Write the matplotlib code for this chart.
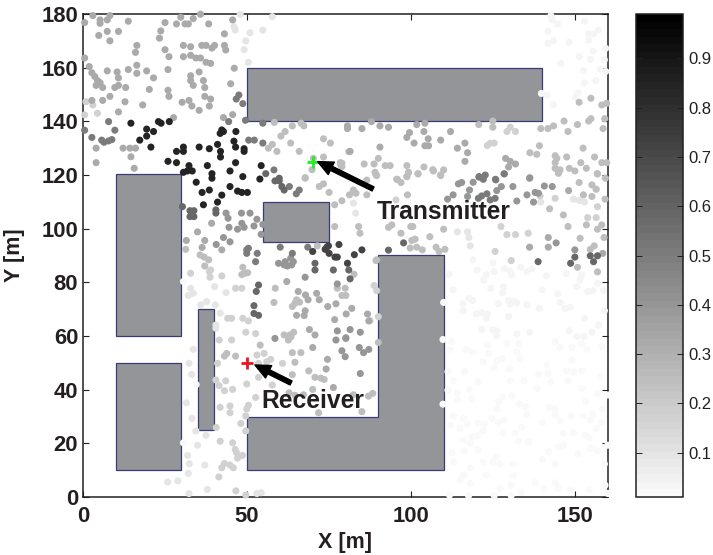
import matplotlib
matplotlib.use('Agg')
import matplotlib.pyplot as plt
from matplotlib.patches import Polygon
from matplotlib.cm import ScalarMappable
from matplotlib.colors import Normalize, LinearSegmentedColormap

plt.rcParams['font.family'] = ['Liberation Sans', 'DejaVu Sans']

# buildings, corner points in metres
buildings = [
    [(10, 60), (30, 60), (30, 120.5), (10, 120.5)],
    [(10, 10), (30, 10), (30, 50), (10, 50)],
    [(35, 25), (40, 25), (40, 70), (35, 70)],
    [(50, 140), (140, 140), (140, 160), (50, 160)],
    [(55, 95), (75, 95), (75, 110), (55, 110)],
    [(50, 10), (110, 10), (110, 90), (90, 90), (90, 30), (50, 30)],
]

transmitter = (70, 125)
receiver = (50, 50)

x_ticks = [0, 50, 100, 150]
y_ticks = [0, 20, 40, 60, 80, 100, 120, 140, 160, 180]
cbar_ticks = [0.1, 0.2, 0.3, 0.4, 0.5, 0.6, 0.7, 0.8, 0.9]

# measured points grouped by the value read from the grey level
pts_85 = [(14.6,139.3),(23,139.9),(23.8,139.3),(26.3,139.9),(19.4,137.1),(21.5,136.2),(19.4,134.5),(17.3,133),(20.7,130.4),
    (42.3,136.8),(42.8,136.2),(41.8,135.5),(46.6,136.2),(46,132.6),(41,131.4),(46.5,130.4),(49.1,129.8),(49.1,128.8),
    (30.6,130.4),(30.6,128.8),(28.5,128.8),(35.4,130.4),(38.5,129.8),(41.9,128.8),(41.9,126.7),(25.9,125.1),(28.5,124.6),
    (32.3,123.5),(37.9,123.5),(46.5,124.6),(54.3,123.5),(30.6,121),(31.8,121.5),(33.3,121.5),(39.3,120.5),(39.3,118.8),
    (44.8,121.5),(48.7,119.4),(53.9,118.5),(34.5,117.3),(38.5,114.4),(36.3,113.5),(42.3,112.5),(44.8,115.7),(47.1,114),
    (48.4,113.5),(50.1,113.5),(41,109.9),(36.7,108.9)]
pts_72 = [(74.3,93.1),(73.8,92.3),(74.8,93.6),(70,91.5),(75,90.8),(78,94.1),(76.8,89.4),(77.5,89.4),(82.7,90.3),(85,92.1),(80.6,87.1)]
pts_58 = [(55.7,120.5),(59.8,118.8),(58.5,117.8),(59.8,117.8),(60.6,115.7),(61.3,114.4),(40.5,107),(40.5,105.8),(30.3,108.2),
    (32.6,106.7),(33.8,106.7),(32.6,104.5),(33.8,104.5),(53.5,79),(52.8,76.6),(52.1,68.4),(53.5,67.7),(52.1,71.3),(138.7,87.7),
    (148.6,87.1),(149.9,89.4),(154.6,89.9),(156.8,89.9),(155.6,87.7),(97.7,94.7),(93.1,92),(70.7,87.1),(70.7,84.6),(76.3,84.6),(81,84.6),(81.4,81.3)]
pts_50 = [(46.7,148.3),(47.5,149.8),(48.7,146.6),(49.5,140.4),(44.4,139.9),(7.8,139.9),(9.7,136.7),(2.7,134),(0.5,136.7),
    (5.7,133),(6.4,132.2),(7.8,132.7),(8.8,133.2),(54.8,139.3),(54.8,131.9),(50.5,133),(52.2,133),(58.2,121.9),(62.9,115.7),(65.9,114.4),
    (65,113),(49.9,92.1),(50.4,92.7),(49.9,90.8),(53.1,90.8),(52.6,87.7),(60.1,93.1),(63.8,90.8),(68.5,93.1),(120.7,119.4),(125.7,118.4),
    (120.7,119.2),(122.6,120),(122,118.4),(128.4,120.4),(125.8,118.2),(120.5,111.3),(123.1,113),(124.1,110.7),(125.6,111.3),(121.5,112.2)]
pts_40 = [(59.6,87.1),(61.6,87.7),(63.3,89),(64.1,87.7),(61.3,86.5),(62.3,86.1),(63.6,86.5),(43.6,105.8),(44.2,103.9),(48.3,105.8),(50.9,105.8),
    (53,103.5),(44.5,100.5),(47.1,99.8),(48.4,102),(49.1,100.5),(52.1,101),(54.8,101.6),(54.3,97.9),(42.8,96.7),(44.8,95.1),(40.6,94.1),
    (114.4,116.7),(115.4,117.2),(118.9,117.3),(127.5,115.7),(126.1,114.2),(131,115.7),(132.2,110.3),(136.1,118.8),(135.3,112.6),(137.8,113.5),
    (138.8,113.2),(137.3,109.9),(140.6,115.9),(143,115.7),(112.8,112.6),(111.1,111),(117.8,114.4),(117.2,112),(144.2,94.7),(149.9,92.1),(67.7,81.9),(77.5,79.4),
    (58.5,59.1),(77.1,58.5),(80.1,59.1),(78.9,54.5),(79.9,52.3),(84.2,55.7),(85.5,53.8),(87.1,55),(84.5,46),(81.4,62.4),(84.5,61.4),(77.5,61.9)]
pts_33 = [(3,179.4),(0.5,176.8),(5.2,177.8),(5.2,176.5),(7.4,177.8),(8.2,179.4),(13.8,177.3),(4.8,172),(7.4,173.5),(10.8,173.5),(8.2,170),
    (25,176.8),(23.7,173.7),(23.3,171),(28.5,176.3),(31.1,176.3),(32.1,176.3),(29.8,178.8),(33.6,178.3),(35.8,179.9),(38.3,176.3),(43.1,172.6),(45.6,177.8),
    (16.4,168.3),(16,165.7),(25,166.7),(26.2,164.1),(30.6,168.3),(32.8,167.8),(30.6,164.1),(32.8,164.6),(34.4,163.6),(35.8,163.6),(36.2,168.3),(37.5,168.3),
    (39.3,167.3),(40.1,168.3),(43.1,168.3),(43.5,166.6),(37.5,162),(38.9,161.6),(0.5,163.6),(1.9,160.4),(2.7,158.1),(3.6,156.7),(4.4,155.2),(5.2,154.4),(4,153.4),(6,152.6),
    (7.4,158.8),(10.4,158.4),(10.8,156.2),(13.8,159.3),(16.4,160.9),(16.4,157.9),(19.4,158.8),(21.5,156.2),(25.9,159.3),(10.8,153.4),(9.7,152.6),(13,152.6),(20.2,151.9),
    (25.9,151.6),(26.2,149.3),(32.8,157),(32.8,155.2),(33.6,153.4),(35.4,158.4),(36.7,155.2),(37.1,152.6),(37.1,149.3),(38.9,148.3),(46.1,159.8),(45,154),(8.2,149.3),(6,147.8),
    (2.7,147.8),(12.8,147.3),(18.2,146.1),(30.2,147.1),(32.3,147.8),(33.2,145.7),(35.4,144.1),(38.5,145.7),(10.8,143.5),(27.6,141.4),(42.8,141.4),(45.6,142.5),(4,130),(4,124.6),
    (12.2,130),(14.3,130),(16,130),(14.6,126.8),(15.6,122.5),(39.2,102),(34.9,98.8),(37.1,95.6),(31.5,95.6),(42.3,92.1),(36.3,93),(62.1,80.3),(65.6,76.6),(67.8,75.3),(68.6,73.5),
    (71.2,75.9),(72,73.5),(74.6,71),(77.1,72),(81.9,70.3),(67.7,69.4),(67.4,67.6),(65.1,67.7),(80.2,68.2),(76.7,66.1),(86.7,68.2),(87.1,65.6),(80.6,138.3),(80.6,137.3),
    (85,137.3),(87.9,139.9),(90.5,138.3),(93.1,137.8),(101.7,138.8),(104.2,139.3),(103.9,136.2),(99.5,135.8),(98.7,134),(100.9,131.9),(105.2,133.5),(104.2,130.9),(105.3,130.9),
    (109,133),(112,136.2),(114.1,130),(116.4,131.9),(117.2,128.3),(116.4,125.1),(90.5,130.4),(81.4,128.8),(128.3,120.5),(128.8,126.2),(130.2,125.1),(131.8,124.1),(129.7,123),
    (136.2,119),(148,114.2),(69,62.4),(70.7,60.4),(70,55.7),(74.5,51.3),(74.1,47.7),(76.3,40.8),(80.1,59.4),(141.8,96.7),(141.8,93.1),(136.1,93.1),(158.4,90.8)]
pts_24 = [(58.3,139.6),(63.8,138.3),(66.5,139.3),(67.3,138.3),(61.6,136.2),(60.3,134.5),(73.3,133.5),(75.4,131.9),(63.3,131.9),(57.7,131.4),(56.5,130),(59.1,128.8),(65.9,128.8),
    (70.2,126.2),(73.3,126.7),(78.4,124.6),(78.6,123.7),(69.8,122),(67.7,119),(81,128.7),(67.7,118.8),(72,115.7),(73.3,116.7),(75,113.5),(78.9,110.4),(76.7,108.9),(81.2,112.6),
    (82.4,114.4),(83.2,113.2),(86.5,112.6),(76.7,100.8),(84,100.8),(84.4,98.3),(71.4,93.6),(31.3,92.3),(35.7,90.2),(36.9,89.4),(38.3,88.4),(37.1,86.1),(48.7,85.6),(48.4,82.9),
    (49.4,83.4),(50.2,83.6),(58.6,77.8),(77.5,77.8),(79.9,77.8),(78.9,75.1),(80.1,75.1),(65.1,73.5),(64.6,72.2),(63.8,71),(66,72.6),(58.2,72.5),(82.6,83),
    (85.7,124.1),(88.7,124.1),(92.1,123.5),(93.6,123.5),(98.7,123.5),(103.9,123),(106.6,122),(109.9,121.9),(109,119.8),(102.1,120.5),(99.2,121),(98.7,119.4),(89,121),(89.5,119.8),
    (78.9,124.4),(78.9,123.1),(95.8,118.4),(86.5,118.1),(90,126.2),(136.2,128.3),(138.3,127.7),(139.1,130.9),(143.9,127.2),(144.4,126.2),(143.9,124.6),(143.9,122.5),(145.4,121.9),
    (144.9,120.6),(147.4,126.7),(152.4,130),(155.9,126.7),(151.7,124.6),(153.4,122.5),(148.2,122.5),(149.9,121.5),(156.7,120.5),(158.1,124.6),(159.6,124.6),(154.8,148.6),(151.2,147.1),
    (158.1,146.1),(159.6,146.7),(146.6,140.1),(154.1,140.1),(154.8,141),(159,141),(158.5,137.3),(150.7,138.8),(147.8,136.2),(143.4,138.3),(141.7,137.3),(139.5,137.3),(124.9,140.1),
    (124.9,137.8),(120.6,138.8),(89.3,120),(95.6,118.4),(96.9,117.2),(98.7,119.4),(99.2,120.9),(102.1,120.4),(106.8,121.5),(109,120),(98.9,112.6),(144.9,121.3),(151.2,117.2),(156.8,120.4),
    (159.2,118.8),(155.1,116.3),(156.4,114.7),(152.5,112.6),(155.1,112),(159.1,111),(142.2,107.4),(146.4,105.1),(153.4,101.4),(158.1,101.4),(156.8,99.8),(147.8,100.8),(151.5,96.4),(158.8,96.7),
    (154.6,92.3),(155.8,93.6),(150.7,85.6),(156.8,83.9),(99.9,100.8),(100.5,100.8),(94.1,101.4),(93.1,100.5),(96.9,98.3),(105.7,97),(109.9,99.8),(101.2,96.1),(100.2,95.6),(99.7,92.8),(101.7,93.1),
    (103.4,92.1),(89.3,88.1),(89.5,88.4),(107.6,93.1),(108.5,91.5),(110.3,92.3),(61.3,60.4),(63.1,60.4),(64.2,61.4),(63.4,59.7),(62.6,58.5),(54,56.6),(90,57.6),(63.8,53.8),(66.4,53.8),(64.6,50.2),(68.8,47),
    (63.8,45.6),(70.7,44.6),(72.5,44.3),(73.5,43.8),(70,40.1),(62.8,38.8),(64.6,37.9),(67.2,38.1),(82.4,38.1),(87,37.6),(88.3,38.6),(85,31.8),(71.8,31.4),(43.8,53.5),(43.1,52.5),(46.5,52.5)]
pts_17 = [(53,52.9),(55.2,53.5),(57.2,51.3),(56,50.4),(53.5,49.8),(60.8,49.8),(53.5,44.6),(49.9,42.1),(57.7,41.7),(41,49.8),(43.5,43.3),(40.5,43.6),(41.5,41.5),(43.1,39.6),(45.6,40.1),
    (52.6,37.1),(50.4,34.2),(49.9,32.8),(41.8,33.4),(44.8,33.9),(44.8,31.4),(49.6,30.2),(48.1,27.4),(40.6,25.9),(49.6,24.6),(41.8,20.8),(45.6,20.2),(46.4,17.7),(46.8,16.5),(48.6,15.5),(47.1,14.5),
    (43.1,12.5),(42.3,10.9),(44.8,11.9),(45.8,10.9),(41.4,7.5),(46.6,2.3),(49.6,0.7),(41.5,58.5),(45.3,58.5),(52.6,60.9),(49.6,61.4),(50.4,65.6),(48.7,66.6),(88.7,78.8),(89.5,76.9),(90,67.2),(87.5,65.7),
    (38.9,84.6),(38.5,84),(38.7,81.9),(42.3,82.4),(32.8,83.4),(46.5,77.8),(48.4,77.8),(45.3,66.6),(44.1,66.6),(130.5,88.1),(129.2,97.8),(131.8,97.8),(127.4,100.8),(135.7,98.3),(125.6,91.5),
    (143.9,111.3),(153.8,104.1),(156.4,104.1),(156.8,108.2),(130.2,137.8),(129.2,136.2),(131.8,136.2),(123.2,131),(124.1,131.8),(125.3,131.9),(0.9,147.3),(3,146.1),(0.5,142.4),(4.4,143),(95.4,110.7),(139.3,112.2)]
pts_09 = [(47.9,179.9),(57.7,179),(46,175.3),(46.4,174),(50.9,173),(54.8,174),(49.6,170),(49.1,166.7),(50.4,162),(82.4,109.5),(83.1,105.8),(32.8,77.8),(33.6,75.9),(32.1,75.1),(40.1,78.4),(43.6,76.2),
    (37.7,72.8),(35.9,71.6),(40.3,71.6),(41.8,68.5),(40.5,64.1),(40.5,62.9),(118,93.6),(114.1,98.8),(117.2,98.8),(117.6,96.7),(149.5,111),(151.3,110.5),(152.8,109.9),(139.5,109.9),(156.4,114.7),
    (33.6,55),(32.3,49.8),(33.1,45.7),(31.5,35.1),(33.2,29.3),(34.4,24.6),(37.5,23),(34.9,19.3),(31.9,15.5),(32.4,12.4),(37.1,11.9),(32.1,8.8),(28.9,6),(25.8,5.6),(37.9,2.8),(32.3,1.3),(53,1.3),(54.3,1.6)]
pts_04 = [(142.6,179.4),(143,177.8),(144.6,176.3),(152.8,177.3),(141.7,173.5),(141.7,169.1),(143.4,170),(148.1,169.5),(154.1,172.6),(154.1,170.3),(155.6,172.6),(157.1,174),(159.3,167.2),(155.4,166.2),
    (151.2,164.1),(154.6,163.1),(158.9,162.9),(145.6,161.6),(157.6,159.4),(159.3,158.6),(152.5,158.9),(156.3,155.2),(152.8,154.3),(150.9,150.7),(150,148.9),(141.4,149.8),(143.4,146.2),
    (118.8,88.4),(124.9,87.2),(120.1,84.6),(125.3,84),(128.4,85.1),(130.2,84),(130.6,82.8),(133.4,85.6),(135.3,84),(136.9,85.1),(122.9,82.8),(122.1,80.9),(141.2,82.4),(147.3,83.2),(152,82.8),(151.5,80.9),
    (150.5,78.4),(156.8,79.7),(111.5,83),(112.8,77.2),(124.3,77.8),(128.2,78.4),(127.9,76.2),(139.9,77.2),(144.7,75.7),(153.8,76.6),(155.4,76.9),(158.6,76.9),(117.6,74.1),(118.8,73.2),(115.8,72),(126.6,72),
    (129.7,73.2),(131.4,72.8),(132.2,72.2),(130.2,71.9),(135.3,71.6),(139.1,70.3),(145.4,72.5),(146.9,70.3),(148.5,70.7),(152.9,66.6),(158.9,69.4),(115.8,69.4),(119.8,68.2),(121.5,68.7),(123.3,68.2),(122.9,66.6),
    (129.7,67.2),(121.5,62.5),(124.9,62.3),(126.1,61.9),(126.1,60),(132.2,60.8),(136.1,61.4),(148.2,61.9),(150.5,59.8),(152.7,59.8),(155.1,61.4),(157.1,64.1)]
pts_01 = [(139.7,150.4),(30.6,80.3),(34.5,41.9),(30.6,20.2),(109.9,72.5),(109.7,58.7),(109.7,34.6),(111.7,0.7),(117.5,0.5),(125.3,0.5),(130.5,0.5),(160,38),(159.9,19.3),(160,1.3),
    (112.4,57.9),(111.9,55),(116.8,55),(118.8,54),(123.6,53.5),(123.3,56.6),(129.2,57.2),(132.7,57),(132.2,54.1),(133.2,51.6),(127.9,51.6),(126.1,50.8),(121.9,50.2),(125.3,48.2),(130,47.7),(141.4,49.2),
    (138.8,45.7),(141.7,46),(134.5,43.3),(130.2,43.3),(142.6,43),(147.3,47),(149.5,46.7),(152,47),(147.8,43.3),(157.6,45),(149,51),(143.9,57.9),(145.4,55.7),(149,55.7),(152,57.2),(153.6,55),(158.1,56),
    (111.2,46.7),(116.3,46.7),(112.9,43.3),(120.5,43),(111.2,39.8),(114.1,38.8),(117.7,40.2),(118.5,36.7),(114.1,36.1),(126.6,35.5),(127.9,37.4),(130.7,37.7),(133,34.6),(134.8,33.6),(135.3,30.9),(138.5,40.5),
    (152,40.5),(156.8,38.6),(153.1,35.7),(142.2,33.4),(143.9,32.8),(143.9,30.5),(148.7,30.2),(152.5,30.2),(154.6,28.7),(155.4,30.9),(158.4,32.8),(158.1,27.7),(156.4,25.6),(140,27.7),(145.4,28.4),
    (126.1,32.8),(124.6,29.3),(112.9,30.2),(116,29.3),(120.5,27.4),(122.3,27.2),(117.2,27.2),(111.9,26.8),(114.9,25.6),(126.6,27.7),(128.4,28.7),(128,23.9),(121.9,24.6),(133.7,25.9),(131.8,23.9),(115.9,21.2),
    (118.5,22.4),(120.2,22.8),(118,20),(132.7,20.8),(135.8,20.6),(146.4,23.7),(149.5,23.9),(153,23.1),(154.3,21.8),(144.9,18.7),(146.4,19.3),(141.9,16.9),(150.7,16),(154.6,18.1),(156.8,17.1),
    (112.4,16.5),(116.3,17.1),(120.5,17.7),(112.9,13.1),(118,10.9),(121.9,12.9),(124.9,12.9),(126.1,15),(127.1,12.3),(131,12.3),(140,14),(143.9,12.3),(158.9,12.3),(114.9,6.5),(116,8.2),(122.8,8.2),(118,5.1),
    (131.2,7.9),(130.5,4.4),(127.1,3.2),(133.5,1.7),(137.8,5.4),(140.4,3.2),(143.9,5.3),(144.9,3.2),(148.5,2.6),(154.3,2.8),(159.1,4.4)]

point_groups = [pts_01, pts_04, pts_09, pts_17, pts_24, pts_33, pts_40, pts_50, pts_58, pts_72, pts_85]
group_values = [0.01, 0.04, 0.09, 0.17, 0.24, 0.33, 0.40, 0.50, 0.58, 0.72, 0.85]

cmap = LinearSegmentedColormap.from_list('grey_band', ['#f9f9f9', '#000000'], 64)
norm = Normalize(0.01, 0.99)

fig = plt.figure(figsize=(7.13, 5.55), dpi=100)
ax = fig.add_axes([83 / 713, 58 / 555, 525 / 713, 483 / 555])

for corners in buildings:
    ax.add_patch(Polygon(corners, closed=True, facecolor='#939598', edgecolor='#3a3a78', linewidth=0.9, zorder=2))

px, py, pv = [], [], []
for pts, val in zip(point_groups, group_values):
    for p in pts:
        px.append(p[0])
        py.append(p[1])
        pv.append(val)
ax.scatter(px, py, c=pv, cmap=cmap, norm=norm, s=26, linewidths=0, zorder=3, clip_on=False)

ax.plot(*transmitter, marker='+', color='#22ee22', markersize=9, markeredgewidth=2, zorder=5)
ax.plot(*receiver, marker='+', color='#ee1122', markersize=9, markeredgewidth=2, zorder=5)

arrow = dict(facecolor='black', edgecolor='black', width=3.2, headwidth=10, headlength=11, shrink=0)
ax.annotate('', xy=(71.5, 125), xytext=(88.4, 114.8), arrowprops=arrow, zorder=6)
ax.annotate('', xy=(52.4, 49.2), xytext=(63.4, 42.5), arrowprops=arrow, zorder=6)
ax.text(89.6, 106.2, 'Transmitter', fontsize=17.7, fontweight='bold', color='#231f20', va='center', zorder=6)
ax.text(54.3, 35.8, 'Receiver', fontsize=17.7, fontweight='bold', color='#231f20', va='center', zorder=6)

ax.set_xlim(0, 160)
ax.set_ylim(0, 180)
ax.set_xticks(x_ticks)
ax.set_yticks(y_ticks)
ax.tick_params(direction='in', top=True, right=True, length=4, width=0.8, labelsize=15.8, colors='#231f20')
ax.tick_params(axis='x', pad=6.5)
ax.tick_params(axis='y', pad=3.5)
for lab in ax.get_xticklabels() + ax.get_yticklabels():
    lab.set_fontweight('bold')
ax.set_xlabel('X [m]', fontsize=15.5, fontweight='bold', color='#231f20', va='center')
ax.set_ylabel('Y [m]', fontsize=15.5, fontweight='bold', color='#231f20', va='center')
ax.xaxis.set_label_coords(0.5, -0.095)
ax.yaxis.set_label_coords(-0.13, 0.5)
for s in ax.spines.values():
    s.set_linewidth(1.1)
    s.set_color('#231f20')

cax = fig.add_axes([636 / 713, 58 / 555, 47 / 713, 483 / 555])
cb = fig.colorbar(ScalarMappable(norm=norm, cmap=cmap), cax=cax, ticks=cbar_ticks)
cb.ax.set_yticklabels(['0.1', '0.2', '0.3', '0.4', '0.5', '0.6', '0.7', '0.8', '0.9'])
cb.ax.tick_params(direction='in', length=4, width=0.7, labelsize=12, left=True, right=True, pad=4, colors='#231f20')
cb.outline.set_linewidth(1.1)
cb.outline.set_edgecolor('#231f20')

fig.savefig('out.png', dpi=100)
